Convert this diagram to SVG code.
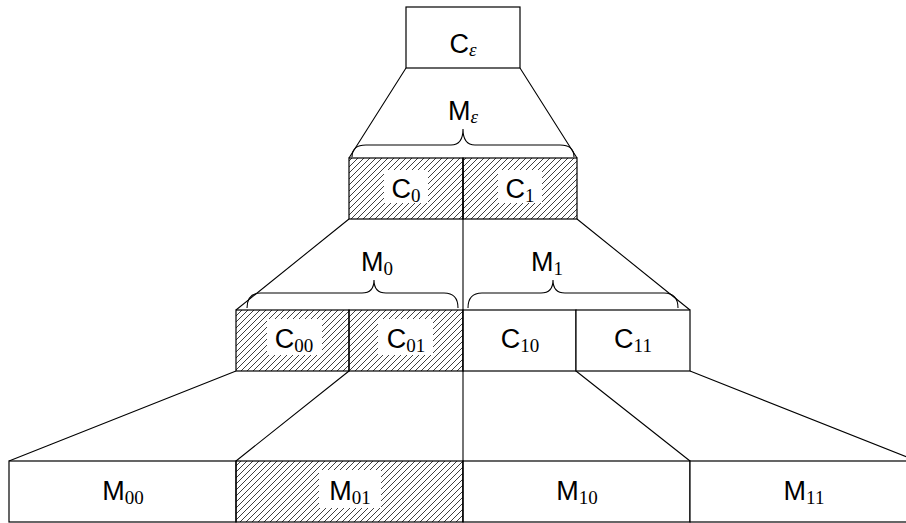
<svg xmlns="http://www.w3.org/2000/svg" width="906" height="523" viewBox="0 0 906 523">
<defs>
<pattern id="hatch" patternUnits="userSpaceOnUse" width="6" height="6">
<path d="M-1,1 l2,-2 M0,6 l6,-6 M5,7 l2,-2" stroke="#000" stroke-width="0.75"/>
</pattern>
</defs>
<style>
.box{fill:#fff;stroke:#000;stroke-width:1.2}
.hb{fill:url(#hatch);stroke:#000;stroke-width:1.2}
.bg{fill:#fff;stroke:none}
.ln{fill:none;stroke:#000;stroke-width:1.1}
.lb{font-family:"Liberation Sans","DejaVu Sans",sans-serif;font-size:27px;fill:#000}
.sub{font-family:"Liberation Serif","DejaVu Serif",serif;font-size:19px}
.eps{font-family:"Liberation Serif","DejaVu Serif",serif;font-size:19px;font-style:italic}
</style>
<rect width="906" height="523" fill="#fff"/>

<g id="connectors">
<path class="ln" d="M406,68 L349,158 M520,68 L577,158"/>
<path class="ln" d="M349,219 L236,310 M577,219 L690,310"/>
<path class="ln" d="M236,371 L9,461 M349,371 L236,461 M576,371 L690,461 M690,371 L917,461"/>
</g>

<g id="C_eps">
<rect class="box" x="406" y="7" width="114" height="61"/>
<text class="lb" x="463" y="53" text-anchor="middle">C<tspan class="eps" dy="3">ε</tspan></text>
</g>

<g id="C_0">
<rect class="hb" x="349" y="158" width="114" height="61"/>
<rect class="bg" x="384" y="170" width="44" height="33"/>
<text class="lb" x="406" y="198" text-anchor="middle">C<tspan class="sub" dy="4">0</tspan></text>
</g>
<g id="C_1">
<rect class="hb" x="463" y="158" width="114" height="61"/>
<rect class="bg" x="498" y="170" width="44" height="33"/>
<text class="lb" x="520" y="198" text-anchor="middle">C<tspan class="sub" dy="4">1</tspan></text>
</g>

<g id="C_00">
<rect class="hb" x="236" y="310" width="113" height="61"/>
<rect class="bg" x="267" y="319" width="55" height="36"/>
<text class="lb" x="294" y="348" text-anchor="middle">C<tspan class="sub" dy="4">00</tspan></text>
</g>
<g id="C_01">
<rect class="hb" x="349" y="310" width="114" height="61"/>
<rect class="bg" x="378" y="319" width="55" height="36"/>
<text class="lb" x="406" y="348" text-anchor="middle">C<tspan class="sub" dy="4">01</tspan></text>
</g>
<g id="C_10">
<rect class="box" x="463" y="310" width="113" height="61"/>
<text class="lb" x="520" y="348" text-anchor="middle">C<tspan class="sub" dy="4">10</tspan></text>
</g>
<g id="C_11">
<rect class="box" x="576" y="310" width="114" height="61"/>
<text class="lb" x="633" y="348" text-anchor="middle">C<tspan class="sub" dy="4">11</tspan></text>
</g>

<g id="M_00">
<rect class="box" x="9" y="461" width="227" height="61"/>
<text class="lb" x="123" y="500" text-anchor="middle">M<tspan class="sub" dy="4">00</tspan></text>
</g>
<g id="M_01">
<rect class="hb" x="236" y="461" width="227" height="61"/>
<rect class="bg" x="319" y="470" width="62" height="38"/>
<text class="lb" x="350" y="500" text-anchor="middle">M<tspan class="sub" dy="4">01</tspan></text>
</g>
<g id="M_10">
<rect class="box" x="463" y="461" width="227" height="61"/>
<text class="lb" x="577" y="500" text-anchor="middle">M<tspan class="sub" dy="4">10</tspan></text>
</g>
<g id="M_11">
<rect class="box" x="690" y="461" width="227" height="61"/>
<text class="lb" x="804" y="500" text-anchor="middle">M<tspan class="sub" dy="4">11</tspan></text>
</g>

<g id="divider">
<line class="ln" x1="463" y1="158" x2="463" y2="522"/>
</g>

<g id="M_eps">
<path class="ln" d="M352,157 Q352,145 366,145 L451,145 Q463,145 463,129 Q463,145 475,145 L560,145 Q574,145 574,157"/>
<text class="lb" x="463" y="120" text-anchor="middle">M<tspan class="eps" dy="3">ε</tspan></text>
</g>
<g id="M_0">
<path class="ln" d="M247,308 Q247,293 261,293 L362,293 Q374,293 374,280 Q374,293 386,293 L444,293 Q458,293 458,308"/>
<text class="lb" x="377" y="271" text-anchor="middle">M<tspan class="sub" dy="4">0</tspan></text>
</g>
<g id="M_1">
<path class="ln" d="M468,308 Q468,293 482,293 L541,293 Q553,293 553,280 Q553,293 565,293 L664,293 Q678,293 678,308"/>
<text class="lb" x="547" y="271" text-anchor="middle">M<tspan class="sub" dy="4">1</tspan></text>
</g>
</svg>
